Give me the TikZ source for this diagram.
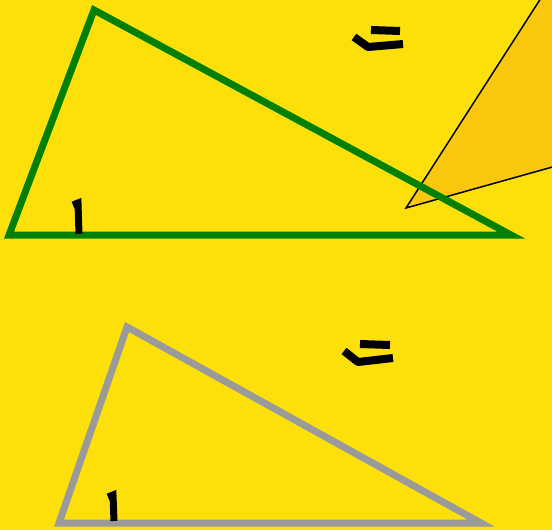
\documentclass[tikz,border=0pt]{standalone}
\definecolor{bg}{HTML}{FDE00A}
\definecolor{wedge}{HTML}{F9C80E}
\definecolor{tgreen}{HTML}{008000}
\definecolor{tgray}{HTML}{9A9A9A}
\tikzset{
  tri/.style={line width=7pt, line join=miter},
  stroke/.style={line width=8pt, black, line join=round},
}
\begin{document}
\begin{tikzpicture}[x=1pt,y=-1pt]
\fill[bg] (0,0) rectangle (552,530);
\useasboundingbox (0,0) rectangle (552,530);
% wedge
\coordinate (wv) at (406,208);
\coordinate (wa) at (541,-2);
\coordinate (wb) at (556,166);
\fill[wedge] (wv) -- (wa) -- (560,-2) -- (560,166) -- (wb) -- cycle;
\draw[black, line width=1.5pt] (wa) -- (wv) -- (wb);
% green triangle
\coordinate (g1) at (9,235);
\coordinate (g2) at (94,10);
\coordinate (g3) at (511,235);
\draw[tri, tgreen] (g1) -- (g2) -- (g3) -- cycle;
% gray triangle
\coordinate (h1) at (59,523);
\coordinate (h2) at (127,327);
\coordinate (h3) at (481,523);
\draw[tri, tgray] (h1) -- (h2) -- (h3) -- cycle;
% marks top
\draw[stroke] (371,30) -- (400,31);
\draw[stroke] (354,37) -- (368,47) -- (403,44);
\draw[line width=7pt, black] (73,205) -- (78,203) -- (79,234);
% marks bottom
\draw[stroke] (360,344) -- (390,345);
\draw[stroke] (344,351) -- (358,362) -- (393,358);
\draw[line width=7pt, black] (108,497) -- (113,495) -- (114,521);
\end{tikzpicture}
\end{document}
